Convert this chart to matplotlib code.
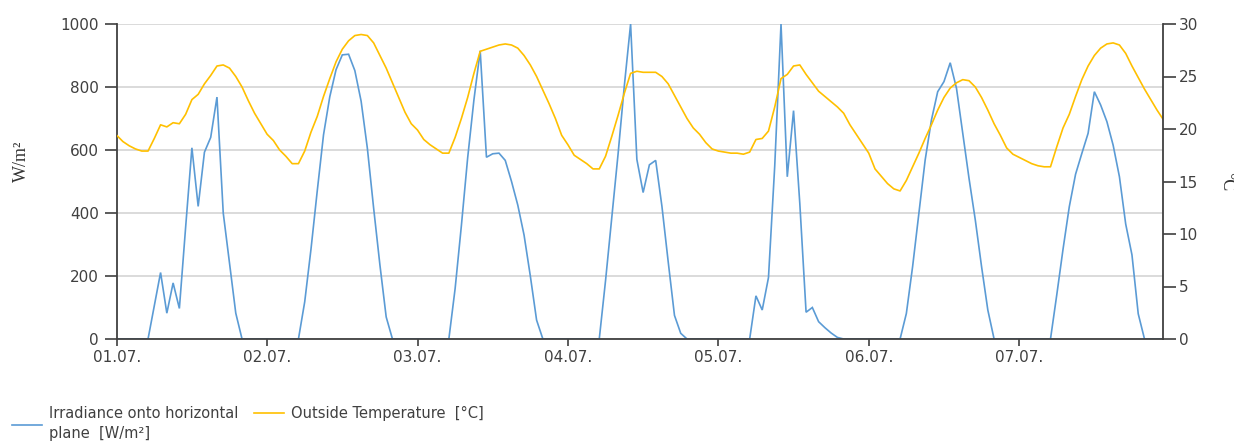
import numpy as np
import matplotlib
matplotlib.use("Agg")
import matplotlib.pyplot as plt

# ---------------- data (hourly, 01.07. 00:00 - 07.07. 23:00) ----------------
day_labels = ["01.07.", "02.07.", "03.07.", "04.07.", "05.07.", "06.07.", "07.07."]

irr_d1 = [0, 0, 0, 0, 0, 0, 105, 211, 82, 178, 97, 355, 607, 421, 593, 640, 768, 400, 240, 82, 0, 0, 0, 0]
irr_d2 = [0, 0, 0, 0, 0, 0, 118, 285, 470, 648, 769, 855, 902, 904, 852, 755, 605, 415, 235, 70, 0, 0, 0, 0]
irr_d3 = [0, 0, 0, 0, 0, 0, 160, 360, 575, 759, 915, 577, 588, 590, 567, 500, 425, 330, 200, 60, 0, 0, 0, 0]
irr_d4 = [0, 0, 0, 0, 0, 0, 185, 385, 587, 804, 1000, 570, 465, 553, 567, 421, 245, 75, 18, 0, 0, 0, 0, 0]
irr_d5 = [0, 0, 0, 0, 0, 0, 137, 92, 195, 550, 1000, 515, 725, 430, 85, 100, 55, 36, 19, 5, 0, 0, 0, 0]
irr_d6 = [0, 0, 0, 0, 0, 0, 81, 230, 399, 568, 695, 785, 817, 877, 796, 653, 510, 378, 230, 92, 0, 0, 0, 0]
irr_d7 = [0, 0, 0, 0, 0, 0, 140, 285, 420, 523, 589, 653, 785, 743, 690, 615, 515, 365, 267, 80, 0, 0, 0, 0]

tmp_d1 = [19.4, 18.8, 18.4, 18.1, 17.9, 17.9, 19.1, 20.4, 20.2, 20.6, 20.5, 21.4, 22.8, 23.3, 24.3, 25.1,
          26.0, 26.1, 25.8, 25.0, 24.0, 22.7, 21.5, 20.5]
tmp_d2 = [19.5, 18.9, 18.0, 17.4, 16.7, 16.7, 17.9, 19.7, 21.2, 23.1, 24.8, 26.4, 27.6, 28.4, 28.9, 29.0,
          28.9, 28.2, 27.0, 25.8, 24.4, 23.0, 21.6, 20.5]
tmp_d3 = [19.9, 19.0, 18.5, 18.1, 17.7, 17.7, 19.2, 21.0, 23.0, 25.3, 27.4, 27.6, 27.8, 28.0, 28.1, 28.0,
          27.7, 27.0, 26.1, 25.0, 23.7, 22.4, 21.0, 19.4]
tmp_d4 = [18.5, 17.5, 17.1, 16.7, 16.2, 16.2, 17.4, 19.3, 21.3, 23.4, 25.3, 25.5, 25.4, 25.4, 25.4, 25.0,
          24.3, 23.2, 22.1, 21.0, 20.1, 19.5, 18.7, 18.1]
tmp_d5 = [17.9, 17.8, 17.7, 17.7, 17.6, 17.8, 19.0, 19.1, 19.8, 22.1, 24.8, 25.2, 26.0, 26.1, 25.2, 24.4,
          23.6, 23.1, 22.6, 22.1, 21.5, 20.4, 19.5, 18.6]
tmp_d6 = [17.7, 16.2, 15.5, 14.8, 14.3, 14.1, 15.1, 16.4, 17.7, 19.1, 20.4, 21.8, 23.0, 23.9, 24.4, 24.7,
          24.6, 24.0, 23.0, 21.8, 20.5, 19.4, 18.2, 17.6]
tmp_d7 = [17.3, 17.0, 16.7, 16.5, 16.4, 16.4, 18.3, 20.1, 21.4, 23.1, 24.7, 26.0, 27.0, 27.7, 28.1, 28.2,
          28.0, 27.2, 26.0, 24.9, 23.8, 22.8, 21.8, 20.9]

irradiance = irr_d1 + irr_d2 + irr_d3 + irr_d4 + irr_d5 + irr_d6 + irr_d7
temperature = tmp_d1 + tmp_d2 + tmp_d3 + tmp_d4 + tmp_d5 + tmp_d6 + tmp_d7
hours = np.arange(len(irradiance))
days = hours / 24.0

irr_label = "Irradiance onto horizontal\nplane  [W/m²]"
tmp_label = "Outside Temperature  [°C]"

# ---------------- styling ----------------
BLUE = "#5B9BD5"
GOLD = "#FFC000"
AXC = "#404040"
TXT = "#404040"
GRID = "#d4d4d4"

W, H = 1234, 443
fig = plt.figure(figsize=(W / 100, H / 100), dpi=100)
L, R, T, B = 116.7, 1163.3, 24, 339
ax = fig.add_axes([L / W, 1 - B / H, (R - L) / W, (B - T) / H])
ax2 = ax.twinx()

l1, = ax.plot(days, irradiance, color=BLUE, lw=1.2, solid_joinstyle="miter")
l2, = ax2.plot(days, temperature, color=GOLD, lw=1.2)

ax.set_xlim(days[0], days[-1])
ax.set_ylim(0, 1000)
ax2.set_ylim(0, 30)

ax.set_xticks(np.arange(len(day_labels)))
ax.set_xticklabels(day_labels)
ax.set_yticks(np.arange(0, 1001, 200))
ax2.set_yticks(np.arange(0, 31, 5))

ax.yaxis.grid(True, color=GRID, lw=1.2)
ax.set_axisbelow(True)

for a in (ax, ax2):
    for s in a.spines.values():
        s.set_color(AXC)
        s.set_linewidth(1.3)
ax.spines["top"].set_visible(False)
ax.spines["right"].set_visible(False)
ax2.spines["top"].set_visible(False)
ax2.spines["left"].set_visible(False)
ax2.spines["bottom"].set_visible(False)

ax.tick_params(axis="y", length=9, width=1.2, color=AXC, labelsize=11, labelcolor=TXT, pad=4)
ax.tick_params(axis="x", length=5, width=1.2, color=AXC, labelsize=11, labelcolor=TXT, pad=3)
ax2.tick_params(axis="y", length=9, width=1.2, color=AXC, labelsize=11, labelcolor=TXT, pad=2)

fig.text(21 / W, 1 - 161 / H, "W/m²", rotation=90, ha="center", va="center",
         fontsize=13, family="Liberation Serif", color="#333333")
fig.text(1227 / W, 1 - 182 / H, "°C", rotation=270, ha="center", va="center",
         fontsize=13, family="Liberation Serif", color="#333333")

# ---------------- legend ----------------
common = dict(frameon=False, fontsize=10.5, handlelength=2.05, handletextpad=0.5,
              borderpad=0, borderaxespad=0, labelcolor=TXT, loc="upper left",
              bbox_transform=fig.transFigure)
leg1 = fig.legend([l1], [irr_label], bbox_to_anchor=(12 / W, 1 - 406 / H), **common)
for t in leg1.get_texts():
    t.set_linespacing(1.45)
fig.legend([l2], [tmp_label], bbox_to_anchor=(254 / W, 1 - 406 / H), **common)

fig.savefig("out.png", dpi=100)
